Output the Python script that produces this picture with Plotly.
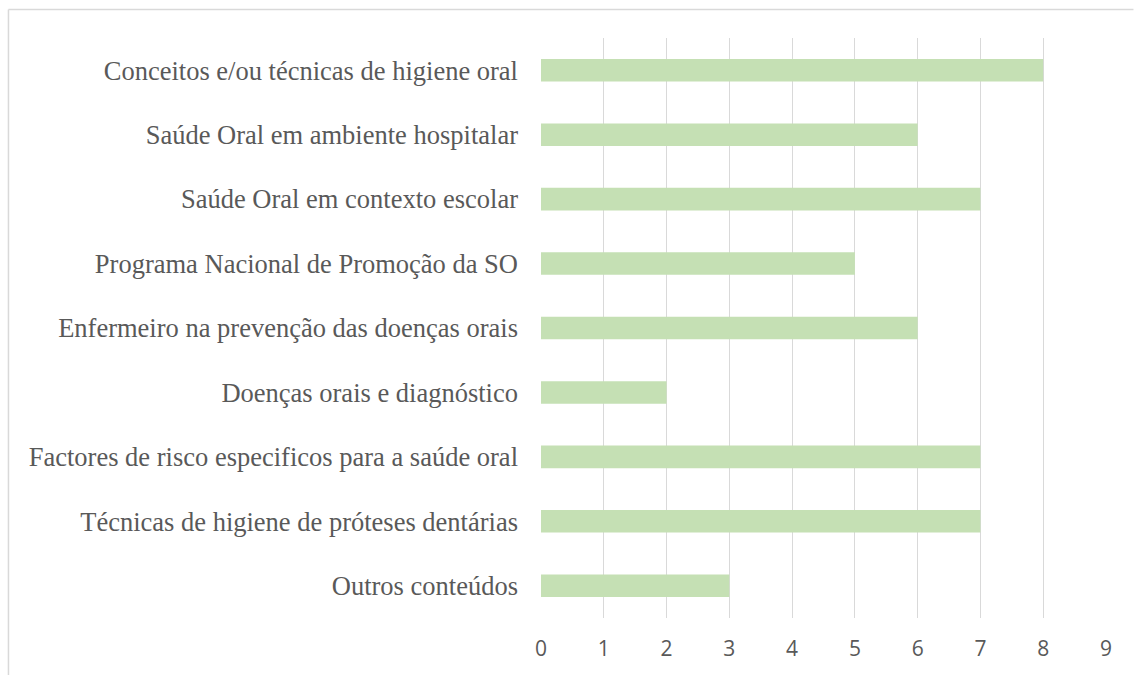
import plotly.graph_objects as go

categories = [
    "Conceitos e/ou técnicas de higiene oral",
    "Saúde Oral em ambiente hospitalar",
    "Saúde Oral em contexto escolar",
    "Programa Nacional de Promoção da SO",
    "Enfermeiro na prevenção das doenças orais",
    "Doenças orais e diagnóstico",
    "Factores de risco especificos para a saúde oral",
    "Técnicas de higiene de próteses dentárias",
    "Outros conteúdos",
]
values = [8, 6, 7, 5, 6, 2, 7, 7, 3]
tick_vals = list(range(0, 10))

W, H = 1134, 675
L, R, T, B = 540.5, 28, 38, 57
pw = W - L - R
ph = H - T - B

fig = go.Figure(go.Bar(
    y=categories, x=values, orientation="h",
    marker=dict(color="#c5e0b4", line=dict(width=0)),
    hoverinfo="skip",
))

def px_x(px):
    return (px - L) / pw

def px_y(py):
    return (H - B - py) / ph

fig.update_layout(
    width=W, height=H,
    margin=dict(l=L, r=R, t=T, b=B, autoexpand=False),
    paper_bgcolor="white", plot_bgcolor="white",
    bargap=0.65,
    showlegend=False,
    xaxis=dict(
        range=[0, 9], tickvals=tick_vals,
        showgrid=True, gridcolor="#d9d9d9", gridwidth=1.3,
        zeroline=False, showline=False,
        tickfont=dict(family="Open Sans, Liberation Sans", size=21, color="#595959"),
        ticklabelstandoff=16,
    ),
    yaxis=dict(
        autorange="reversed",
        showgrid=False, zeroline=False, showline=False,
        tickfont=dict(family="Liberation Serif", size=26.5, color="#595959"),
        ticklabelstandoff=22,
    ),
    shapes=[
        dict(type="line", xref="paper", yref="paper",
             x0=px_x(7.5), x1=px_x(1133.5), y0=px_y(9.5), y1=px_y(9.5),
             line=dict(color="#d9d9d9", width=1.5)),
        dict(type="line", xref="paper", yref="paper",
             x0=px_x(7.5), x1=px_x(7.5), y0=px_y(9.5), y1=px_y(680),
             line=dict(color="#d9d9d9", width=1.5)),
    ],
)

fig.write_html(
    "out.html",
    config={"displayModeBar": False},
    post_script="document.body.style.margin='0';document.body.style.overflow='hidden';",
)
